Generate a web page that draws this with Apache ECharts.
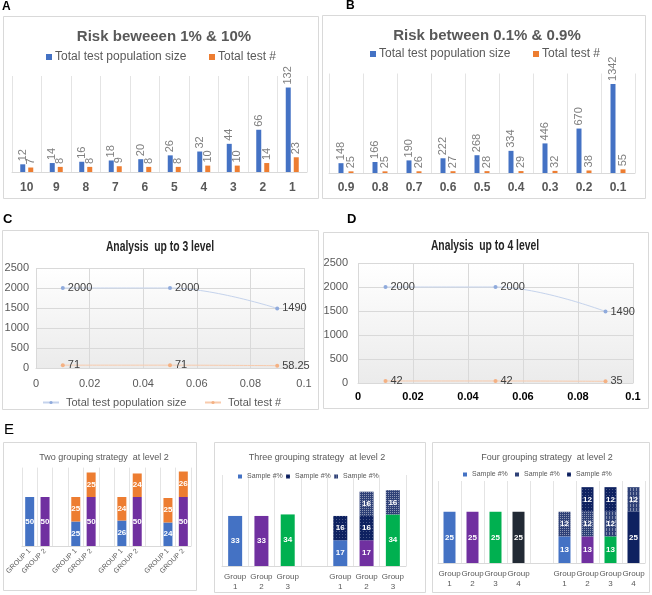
<!DOCTYPE html>
<html><head><meta charset="utf-8">
<script src="https://cdn.jsdelivr.net/npm/echarts@6/dist/echarts.min.js"></script>
<style>html,body{margin:0;padding:0;background:#fff}#c{width:652px;height:595px}</style>
</head><body><div id="c"></div>
<script>
// ---------- data ----------
const aCategories = ['10','9','8','7','6','5','4','3','2','1'];
const aPopulation = [12,14,16,18,20,26,32,44,66,132];
const aTests = [7,8,8,9,8,8,10,10,14,23];

const bCategories = ['0.9','0.8','0.7','0.6','0.5','0.4','0.3','0.2','0.1'];
const bPopulation = [148,166,190,222,268,334,446,670,1342];
const bTests = [25,25,26,27,28,29,32,38,55];

const lineX = [0.01,0.05,0.09];
const cPopulation = [2000,2000,1490];
const cTests = [71,71,58.25];
const dPopulation = [2000,2000,1490];
const dTests = [42,42,35];

const e1Categories = ['GROUP 1','GROUP 2','','GROUP 1','GROUP 2','','GROUP 1','GROUP 2','','GROUP 1','GROUP 2'];
const e1Base = [50,50,null,25,50,null,26,50,null,24,50];
const e1Top  = [null,null,null,25,25,null,24,24,null,25,26];

const e2Categories = ['Group\n1','Group\n2','Group\n3','','Group\n1','Group\n2','Group\n3'];
const e2Base = [33,33,34,null,17,17,34];
const e2Mid  = [null,null,null,null,16,16,null];
const e2Top  = [null,null,null,null,null,16,16];

const e3Categories = ['Group\n1','Group\n2','Group\n3','Group\n4','','Group\n1','Group\n2','Group\n3','Group\n4'];
const e3Base = [25,25,25,25,null,13,13,13,25];
const e3Mid  = [null,null,null,null,null,12,12,12,12];
const e3Top  = [null,null,null,null,null,null,12,12,null];

// ---------- styles ----------
const BLUE='#4472C4', ORANGE='#ED7D31', PURPLE='#7030A0', GREEN='#00B050', NAVY='#0E2160', DARK='#222A35';
const GRAY='#595959', LGRAY='#d9d9d9';
const FONT="'Liberation Sans', Arial, sans-serif";

const dots = {symbol:'rect', symbolSize:1, dashArrayX:[1,1], dashArrayY:[1,1], color:'rgba(255,255,255,0.45)'};
const fineDots = {symbol:'rect', symbolSize:1, dashArrayX:[1,2], dashArrayY:[1,2], color:'rgba(255,255,255,0.25)'};
const stripes = {symbol:'rect', symbolSize:1, dashArrayX:[1,2], dashArrayY:[3,1], color:'rgba(255,255,255,0.4)'};

const e1BaseColors = [BLUE,PURPLE,null,BLUE,PURPLE,null,BLUE,PURPLE,null,BLUE,PURPLE];
const e2BaseColors = [BLUE,PURPLE,GREEN,null,BLUE,PURPLE,GREEN];
const e3BaseColors = [BLUE,PURPLE,GREEN,DARK,null,BLUE,PURPLE,GREEN,NAVY];
const e3MidDecals = [null,null,null,null,null,dots,dots,stripes,stripes];

const legendText = {A1:'Total test population size',A2:'Total test #',B1:'Total test population size',B2:'Total test #',
  C1:'Total test population size',C2:'Total test #',E2a:'Sample #%',E2b:'Sample #%',E2c:'Sample #%',E3a:'Sample #%',E3b:'Sample #%',E3c:'Sample #%'};

function styled(vals, colors, decals){
  return vals.map((v,i)=>{
    if(v==null) return '-';
    const st={};
    if(colors && colors[i]) st.color=colors[i];
    if(decals && decals[i]) st.decal=decals[i];
    return {value:v, itemStyle:st};
  });
}

const barLabel = {show:true, position:'top', rotate:90, align:'left', verticalAlign:'middle', distance:3, fontSize:11, color:'#7f7f7f', fontFamily:FONT};
const eLabel = {show:true, position:'inside', color:'#fff', fontSize:8, fontWeight:'bold', fontFamily:FONT};
const lineLabel = {show:true, position:'right', distance:3, color:'#404040', fontSize:11, fontFamily:FONT};

function catAxis(gi, data, extra){
  return Object.assign({type:'category', gridIndex:gi, data:data,
    axisLine:{lineStyle:{color:LGRAY}}, axisTick:{show:false},
    splitLine:{show:true, interval:0, lineStyle:{color:'#e4e4e4'}},
    axisLabel:{interval:0, color:GRAY, fontFamily:FONT}}, extra||{});
}
function hiddenY(gi, max){
  return {type:'value', gridIndex:gi, min:0, max:max, show:false, splitLine:{show:false}};
}
const bgGrad = new echarts.graphic.LinearGradient(0,0,0,1,[{offset:0,color:'#ffffff'},{offset:1,color:'#ebebeb'}]);

function legendItem(name, left, top, extra){
  return Object.assign({data:[name], left:left, top:top, orient:'horizontal', padding:0,
    itemWidth:6, itemHeight:6, itemGap:0, icon:'rect', selectedMode:false,
    formatter:(n)=>legendText[n], textStyle:{fontSize:12, color:GRAY, fontFamily:FONT, padding:[0,0,0,-2]}}, extra||{});
}
const plain = (v)=>String(+(+v).toFixed(2));

const option = {
  backgroundColor:'#fff',
  animation:false,
  graphic:[
    {type:'rect', shape:{x:3.5,y:16.5,width:315,height:182}, style:{fill:'none', stroke:LGRAY, lineWidth:1}, silent:true},
    {type:'rect', shape:{x:322.5,y:15.5,width:323,height:183}, style:{fill:'none', stroke:LGRAY, lineWidth:1}, silent:true},
    {type:'rect', shape:{x:2.5,y:230.5,width:316,height:179}, style:{fill:'none', stroke:LGRAY, lineWidth:1}, silent:true},
    {type:'rect', shape:{x:323.5,y:232.5,width:325,height:176}, style:{fill:'none', stroke:LGRAY, lineWidth:1}, silent:true},
    {type:'rect', shape:{x:3.5,y:442.5,width:193,height:148}, style:{fill:'none', stroke:LGRAY, lineWidth:1}, silent:true},
    {type:'rect', shape:{x:214.5,y:442.5,width:211,height:150}, style:{fill:'none', stroke:LGRAY, lineWidth:1}, silent:true},
    {type:'rect', shape:{x:432.5,y:442.5,width:217,height:150}, style:{fill:'none', stroke:LGRAY, lineWidth:1}, silent:true},
    {type:'text', left:2, top:1, style:{text:'A', font:'bold 12px '+FONT, fill:'#000'}},
    {type:'text', left:346, top:0, style:{text:'B', font:'bold 12px '+FONT, fill:'#000'}},
    {type:'text', left:3, top:213, style:{text:'C', font:'bold 13px '+FONT, fill:'#000'}},
    {type:'text', left:347, top:213, style:{text:'D', font:'bold 13px '+FONT, fill:'#000'}},
    {type:'text', left:4, top:422, style:{text:'E', font:'15px '+FONT, fill:'#000'}},
    {type:'text', x:160, y:247, scaleX:0.74, style:{text:'Analysis  up to 3 level', font:'bold 14px '+FONT, fill:'#262626', align:'center', verticalAlign:'middle'}},
    {type:'text', x:485, y:246, scaleX:0.74, style:{text:'Analysis  up to 4 level', font:'bold 14px '+FONT, fill:'#262626', align:'center', verticalAlign:'middle'}}
  ],
  title:[
    {text:'Risk beweeen 1% & 10%', left:159, top:24, textAlign:'center', textStyle:{fontSize:15, fontWeight:'bold', color:GRAY, fontFamily:FONT}},
    {text:'Risk between 0.1% & 0.9%', left:482, top:23, textAlign:'center', textStyle:{fontSize:15, fontWeight:'bold', color:GRAY, fontFamily:FONT}},
    {text:'Two grouping strategy  at level 2', left:99, top:448, textAlign:'center', textStyle:{fontSize:9, fontWeight:'normal', color:GRAY, fontFamily:FONT}},
    {text:'Three grouping strategy  at level 2', left:312, top:448, textAlign:'center', textStyle:{fontSize:9, fontWeight:'normal', color:GRAY, fontFamily:FONT}},
    {text:'Four grouping strategy  at level 2', left:542, top:448, textAlign:'center', textStyle:{fontSize:9, fontWeight:'normal', color:GRAY, fontFamily:FONT}}
  ],
  legend:[
    legendItem('A1', 46, 51),
    legendItem('A2', 209, 51),
    legendItem('B1', 370, 48),
    legendItem('B2', 533, 48),
    legendItem('C1', 42, 397, {icon:null, itemWidth:16, itemHeight:4, textStyle:{fontSize:11, color:GRAY, fontFamily:FONT, padding:[0,0,0,2]}}),
    legendItem('C2', 204, 397, {icon:null, itemWidth:16, itemHeight:4, textStyle:{fontSize:11, color:GRAY, fontFamily:FONT, padding:[0,0,0,2]}}),
    legendItem('E2a', 238, 473, {itemWidth:4, itemHeight:4, textStyle:{fontSize:7, color:GRAY, fontFamily:FONT}}),
    legendItem('E2b', 286, 473, {itemWidth:4, itemHeight:4, textStyle:{fontSize:7, color:GRAY, fontFamily:FONT}}),
    legendItem('E2c', 334, 473, {itemWidth:4, itemHeight:4, textStyle:{fontSize:7, color:GRAY, fontFamily:FONT}}),
    legendItem('E3a', 463, 471, {itemWidth:4, itemHeight:4, textStyle:{fontSize:7, color:GRAY, fontFamily:FONT}}),
    legendItem('E3b', 515, 471, {itemWidth:4, itemHeight:4, textStyle:{fontSize:7, color:GRAY, fontFamily:FONT}}),
    legendItem('E3c', 567, 471, {itemWidth:4, itemHeight:4, textStyle:{fontSize:7, color:GRAY, fontFamily:FONT}})
  ],
  grid:[
    {left:12, top:76, width:295, height:96},
    {left:329, top:73.5, width:306, height:99.5},
    {left:36, top:268, width:268, height:100, show:true, backgroundColor:bgGrad, borderWidth:0},
    {left:358, top:263, width:275, height:120, show:true, backgroundColor:bgGrad, borderWidth:0},
    {left:22, top:467.6, width:169, height:78.4},
    {left:222, top:475, width:184, height:91},
    {left:438, top:481, width:207, height:82}
  ],
  xAxis:[
    catAxis(0, aCategories, {axisLabel:{interval:0, color:GRAY, fontFamily:FONT, fontSize:12, fontWeight:'bold', margin:10}}),
    catAxis(1, bCategories, {axisLabel:{interval:0, color:GRAY, fontFamily:FONT, fontSize:12, fontWeight:'bold', margin:9}}),
    {type:'value', gridIndex:2, min:0, max:0.1, interval:0.02,
      axisLine:{show:true, lineStyle:{color:LGRAY}}, axisTick:{show:false},
      splitLine:{show:true, lineStyle:{color:LGRAY}},
      axisLabel:{color:GRAY, fontSize:11, fontFamily:FONT, margin:10, formatter:plain}},
    {type:'value', gridIndex:3, min:0, max:0.1, interval:0.02,
      axisLine:{show:true, lineStyle:{color:LGRAY}}, axisTick:{show:false},
      splitLine:{show:true, lineStyle:{color:LGRAY}},
      axisLabel:{color:'#000', fontSize:11, fontWeight:'bold', fontFamily:FONT, margin:8, formatter:plain}},
    catAxis(4, e1Categories, {axisLabel:{interval:0, rotate:45, color:GRAY, fontSize:7, fontFamily:FONT, margin:4}}),
    catAxis(5, e2Categories, {axisLabel:{interval:0, color:GRAY, fontSize:8, lineHeight:10, fontFamily:FONT, margin:6}}),
    catAxis(6, e3Categories, {axisLabel:{interval:0, color:GRAY, fontSize:8, lineHeight:10, fontFamily:FONT, margin:6}})
  ],
  yAxis:[
    hiddenY(0,150),
    hiddenY(1,1500),
    {type:'value', gridIndex:2, min:0, max:2500, interval:500,
      axisLine:{show:false}, axisTick:{show:false}, splitLine:{lineStyle:{color:LGRAY}},
      axisLabel:{color:GRAY, fontSize:11, fontFamily:FONT, margin:7, formatter:plain}},
    {type:'value', gridIndex:3, min:0, max:2500, interval:500,
      axisLine:{show:false}, axisTick:{show:false}, splitLine:{lineStyle:{color:LGRAY}},
      axisLabel:{color:GRAY, fontSize:11, fontFamily:FONT, margin:10, formatter:plain}},
    hiddenY(4,80),
    hiddenY(5,60),
    hiddenY(6,40)
  ],
  series:[
    {name:'A1', type:'bar', xAxisIndex:0, yAxisIndex:0, data:aPopulation, barWidth:5, barGap:'60%', itemStyle:{color:BLUE}, label:barLabel},
    {name:'A2', type:'bar', xAxisIndex:0, yAxisIndex:0, data:aTests, barWidth:5, barGap:'60%', itemStyle:{color:ORANGE}, label:barLabel},
    {name:'B1', type:'bar', xAxisIndex:1, yAxisIndex:1, data:bPopulation, barWidth:5, barGap:'100%', itemStyle:{color:BLUE}, label:barLabel},
    {name:'B2', type:'bar', xAxisIndex:1, yAxisIndex:1, data:bTests, barWidth:5, barGap:'100%', itemStyle:{color:ORANGE}, label:barLabel},
    {name:'C1', type:'line', xAxisIndex:2, yAxisIndex:2, data:lineX.map((x,i)=>[x,cPopulation[i]]), smooth:0.4,
      symbol:'circle', symbolSize:4, itemStyle:{color:'#8FAADC'}, lineStyle:{color:'#C5D3EC', width:1}, label:lineLabel},
    {name:'C2', type:'line', xAxisIndex:2, yAxisIndex:2, data:lineX.map((x,i)=>[x,cTests[i]]), smooth:0.4,
      symbol:'circle', symbolSize:4, itemStyle:{color:'#F4B183'}, lineStyle:{color:'#F8CBAD', width:1}, label:lineLabel},
    {name:'D1', type:'line', xAxisIndex:3, yAxisIndex:3, data:lineX.map((x,i)=>[x,dPopulation[i]]), smooth:0.4,
      symbol:'circle', symbolSize:4, itemStyle:{color:'#8FAADC'}, lineStyle:{color:'#C5D3EC', width:1}, label:lineLabel},
    {name:'D2', type:'line', xAxisIndex:3, yAxisIndex:3, data:lineX.map((x,i)=>[x,dTests[i]]), smooth:0.4,
      symbol:'circle', symbolSize:4, itemStyle:{color:'#F4B183'}, lineStyle:{color:'#F8CBAD', width:1}, label:lineLabel},

    {name:'E1a', type:'bar', xAxisIndex:4, yAxisIndex:4, stack:'e1', barWidth:9, data:styled(e1Base,e1BaseColors), itemStyle:{color:BLUE}, label:eLabel},
    {name:'E1b', type:'bar', xAxisIndex:4, yAxisIndex:4, stack:'e1', barWidth:9, data:styled(e1Top), itemStyle:{color:ORANGE}, label:eLabel},

    {name:'E2a', type:'bar', xAxisIndex:5, yAxisIndex:5, stack:'e2', barWidth:14, data:styled(e2Base,e2BaseColors), itemStyle:{color:BLUE}, label:eLabel},
    {name:'E2b', type:'bar', xAxisIndex:5, yAxisIndex:5, stack:'e2', barWidth:14, data:styled(e2Mid), itemStyle:{color:NAVY, decal:fineDots}, label:eLabel},
    {name:'E2c', type:'bar', xAxisIndex:5, yAxisIndex:5, stack:'e2', barWidth:14, data:styled(e2Top), itemStyle:{color:'#2F4177', decal:dots}, label:eLabel},

    {name:'E3a', type:'bar', xAxisIndex:6, yAxisIndex:6, stack:'e3', barWidth:12, data:styled(e3Base,e3BaseColors), itemStyle:{color:BLUE}, label:eLabel},
    {name:'E3b', type:'bar', xAxisIndex:6, yAxisIndex:6, stack:'e3', barWidth:12, data:styled(e3Mid,null,e3MidDecals), itemStyle:{color:'#2F4177'}, label:eLabel},
    {name:'E3c', type:'bar', xAxisIndex:6, yAxisIndex:6, stack:'e3', barWidth:12, data:styled(e3Top), itemStyle:{color:NAVY, decal:fineDots}, label:eLabel}
  ]
};
const chart = echarts.init(document.getElementById('c'), null, {renderer:'canvas'});
chart.setOption(option);
</script></body></html>
